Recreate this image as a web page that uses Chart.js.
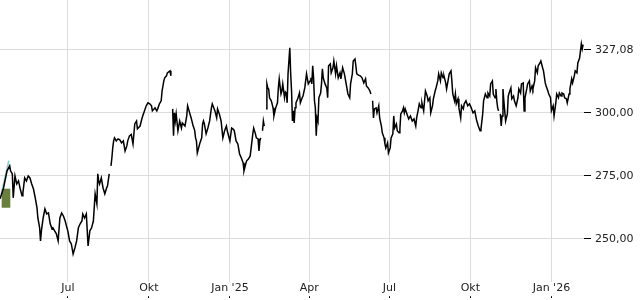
<!DOCTYPE html>
<html>
<head>
<meta charset="utf-8">
<script src="https://cdn.jsdelivr.net/npm/chart.js@4/dist/chart.umd.min.js"></script>
<style>
  html, body { margin: 0; padding: 0; background: #fff; }
  #wrap { width: 640px; height: 300px; }
</style>
</head>
<body>
<div id="wrap"><canvas id="kurs"></canvas></div>
<script>
// Data ---------------------------------------------------------------
// day offsets counted from 15 Apr 2024, null price = gap in the line

const days = [
  0,4,8,11,12,14,15,17,19,21, 23,25,26,28,30,32,34,36,38,40,
  42,43,45,46,47,49,51,53,55,57, 59,60,62,64,66,68,70,72,74,76,
  77,79,81,83,85,87,89,91,93,94, 96,98,100,102,104,106,108,110,111,112,
  113,115,117,119,121,122,124,125,126,127, 128,129,130,132,134,136,138,140,142,144,
  145,147,149,151,153,155,156,159,161,162, 164,166,168,170,172,173,176,178,179,181,
  183,184,186,187,189,190,193,194,195,
  196,197,198,199,200,202,204,206,207,210, 212,213,215,217,219,221,222,223,224,227,
  229,230,231,232,234,236,238,240,241,244, 246,247,249,251,253,255,257,258,261,263,
  265,266,268,270,272,274,276,277,279,280, 282,284,285,287,288,290,291,293,294,295,
  296,297,298,299,300,301,
  302,303,304,305,306,308,310,311,313,315, 316,317,319,320,321,323,324,325,326,327,
  329,330,331,332,333,334,335,336,338,340, 341,343,344,346,347,348,350,352,353,354,
  355,356,357,358,359,360,361,362,364,365, 366,367,369,371,372,373,375,376,378,379,
  381,382,384,386,387,389,391,393,395,397, 398,400,401,403,404,405,407,409,411,413,
  415,416,418,420,421,422,
  423,424,425,427,428,430,431,433,434,436, 437,438,440,441,443,444,446,447,448,450,
  451,453,454,455,457,458,459,460,462,464, 466,468,470,472,473,475,476,478,479,481,
  483,485,486,488,489,491,492,494,495,497, 498,500,501,503,504,506,507,509,510,512,
  513,514,516,517,518,520,521,523,524,526, 527,529,531,533,535,537,539,541,543,545,
  546,548,549,551,553,554,556,557,559,560, 562,563,564,565,566,567,
  568,569,570,571,572,573,574,576,577,578, 580,581,583,584,586,588,589,591,592,594,
  595,596,598,599,601,602,604,605,607,608, 610,611,613,614,616,617,619,620,622,623,
  625,626,628,629,631,632,634,635,637,638, 640,641,643,644,646,647,649,650,652,653,
  655,656,658,659,660,661,662
];

const prices = [
  265.9,270.2,277.0,279.0,277.0,275.8,266.3,275.0,271.8,273.0, 269.8,267.1,268.3,274.2,273.0,275.0,274.2,271.8,269.8,266.3,
  262.3,258.3,254.4,249.2,253.2,258.3,261.9,259.9,260.3,256.0, 254.0,254.4,253.2,252.0,249.2,258.3,260.3,259.1,257.1,254.4,
  253.2,249.2,248.0,244.0,246.4,249.2,254.4,256.0,257.1,259.9, 258.3,259.9,247.2,253.2,254.4,257.1,267.9,263.9,275.8,273.0,
  271.8,274.2,270.2,267.9,270.2,271.0,275.8,null,279.0,282.1, 286.1,288.9,290.1,288.9,289.7,289.3,288.1,288.9,284.9,286.9,
  288.9,290.9,291.5,287.7,295.6,296.8,293.7,294.8,297.6,298.8, 300.8,302.8,304.0,303.6,302.8,300.8,302.0,300.8,301.6,303.6,
  304.8,308.7,312.7,313.9,314.7,315.9,316.7,314.7,null,
  301.6,290.9,300.0,296.8,299.6,292.9,296.8,294.0,296.0,294.8, 298.8,302.8,300.4,298.0,295.2,293.1,290.1,288.9,284.1,288.1,
  290.1,295.6,296.8,295.6,291.7,294.0,296.8,302.0,303.6,300.8, 298.0,301.6,299.6,296.8,290.1,292.9,294.8,292.9,288.9,294.0,
  293.5,292.9,288.9,287.7,283.7,282.1,280.2,277.0,279.8,281.0, 281.7,282.9,285.7,291.7,294.0,291.7,290.1,289.7,284.9,288.9,
  290.1,null,292.9,296.8,294.8,null,
  301.6,311.5,309.9,309.5,306.0,304.8,302.0,298.8,302.0,304.0, 309.9,313.5,307.5,308.7,311.5,306.0,308.3,307.9,304.0,315.5,
  325.8,315.5,308.7,296.8,300.8,296.0,302.0,304.0,305.6,307.9, 304.0,306.0,306.7,309.9,312.7,315.5,311.5,312.7,313.9,311.5,
  318.7,313.9,304.8,302.0,290.9,298.0,296.8,306.0,307.9,311.5, 317.5,313.9,311.5,309.9,306.0,318.7,319.4,315.9,317.9,320.6,
  315.5,318.7,313.9,315.9,313.5,317.9,315.5,311.5,307.5,306.0, 311.5,315.5,320.6,321.4,318.7,315.5,315.0,314.7,313.9,311.9,
  313.5,310.7,309.9,308.7,307.5,null,
  304.8,298.0,301.6,302.0,300.0,302.8,298.0,294.8,292.1,290.1, 287.7,286.1,288.1,284.1,286.1,290.1,291.7,298.8,294.0,295.6,
  292.9,292.1,293.7,299.6,300.8,302.0,300.0,301.6,299.6,297.6, 298.8,296.8,297.6,294.8,298.0,301.6,303.6,302.0,304.0,300.8,
  308.7,306.7,304.8,306.0,300.0,302.8,305.6,308.7,309.9,312.7, 315.5,312.7,315.9,313.9,314.7,311.9,309.5,313.5,315.5,316.7,
  312.7,307.5,304.8,307.5,303.6,305.6,302.0,298.0,302.8,301.6, 303.6,304.8,302.8,303.6,302.0,300.0,300.8,297.2,294.8,292.9,
  293.5,299.6,304.8,307.5,306.0,307.9,306.7,311.5,312.7,307.5, 306.0,309.5,304.8,302.0,300.8,null,
  299.6,294.8,298.8,309.5,304.8,300.8,296.8,299.6,306.7,307.9, 309.9,305.6,306.7,304.8,302.8,306.0,309.5,307.9,311.5,311.9,
  300.8,306.0,309.5,311.5,312.7,308.7,310.7,309.5,312.7,317.9, 315.9,318.7,319.8,320.6,317.9,316.7,311.9,310.7,308.7,307.5,
  306.0,300.8,302.8,298.8,304.0,307.5,306.0,307.9,306.7,307.9, 307.5,306.0,305.6,304.0,307.5,309.5,313.5,311.9,314.7,316.7,
  315.9,319.8,321.8,324.6,327.4,325.4,327.08
];

// month starts on the x axis (same day offsets)
const monthDays = [77, 169, 261, 351, 442, 534, 626];
const monthLabels = ['Jul', 'Okt', "Jan '25", 'Apr', 'Jul', 'Okt', "Jan '26"];

// price ticks on the right, top one shows the last price
const priceTicks = [250, 275, 300, 325];
const priceLabels = ['250,00', '275,00', '300,00', '327,08'];

// small marker at the start
const markerDays = [1.5, 10];
const markerPrices = [267.9, 281.0];
const boxDay = [6.8];
const boxRange = [[262.5, 269.8]];

// Chart ------------------------------------------------------------

Chart.defaults.font.family = 'DejaVu Sans';
Chart.defaults.font.size = 11;
Chart.defaults.color = '#222';

const kursData = days.map((d, i) => ({ x: d, y: prices[i] }));

new Chart(document.getElementById('kurs'), {
  type: 'line',
  data: {
    datasets: [
      {
        data: kursData,
        borderColor: '#000',
        borderWidth: 1.5,
        pointRadius: 0,
        tension: 0,
        spanGaps: false,
        order: 0
      },
      {
        data: markerDays.map((d, i) => ({ x: d, y: markerPrices[i] })),
        borderColor: '#86c9d3',
        borderWidth: 1.5,
        pointRadius: 0,
        order: 1
      },
      {
        type: 'bar',
        data: boxDay.map((d, i) => ({ x: d, y: boxRange[i] })),
        backgroundColor: '#6a7f3e',
        barThickness: 8,
        order: 2
      }
    ]
  },
  options: {
    responsive: true,
    maintainAspectRatio: false,
    animation: false,
    layout: { padding: 0 },
    plugins: { legend: { display: false }, tooltip: { enabled: false } },
    scales: {
      x: {
        type: 'linear',
        min: 0,
        max: 663,
        offset: false,
        border: { display: false },
        grid: { color: '#dddddd', tickColor: '#000', tickLength: 16, offset: false },
        afterBuildTicks: axis => { axis.ticks = monthDays.map(v => ({ value: v })); },
        afterFit: axis => { axis.height = 18; axis.paddingLeft = 0; axis.paddingRight = 0; },
        ticks: {
          autoSkip: false,
          maxRotation: 0,
          padding: -16,
          showLabelBackdrop: true,
          backdropColor: '#fff',
          backdropPadding: { top: 1, bottom: 1, left: 2, right: 2 },
          callback: value => monthLabels[monthDays.indexOf(value)]
        }
      },
      y: {
        position: 'right',
        min: 232.9,
        max: 344.8,
        border: { display: false },
        grid: { color: '#dddddd', tickColor: '#000', tickLength: 7 },
        afterBuildTicks: axis => { axis.ticks = priceTicks.map(v => ({ value: v })); },
        afterFit: axis => { axis.width = 56; axis.paddingTop = 0; axis.paddingBottom = 0; },
        ticks: {
          padding: 4,
          callback: value => priceLabels[priceTicks.indexOf(value)]
        }
      }
    }
  }
});
</script>
</body>
</html>
